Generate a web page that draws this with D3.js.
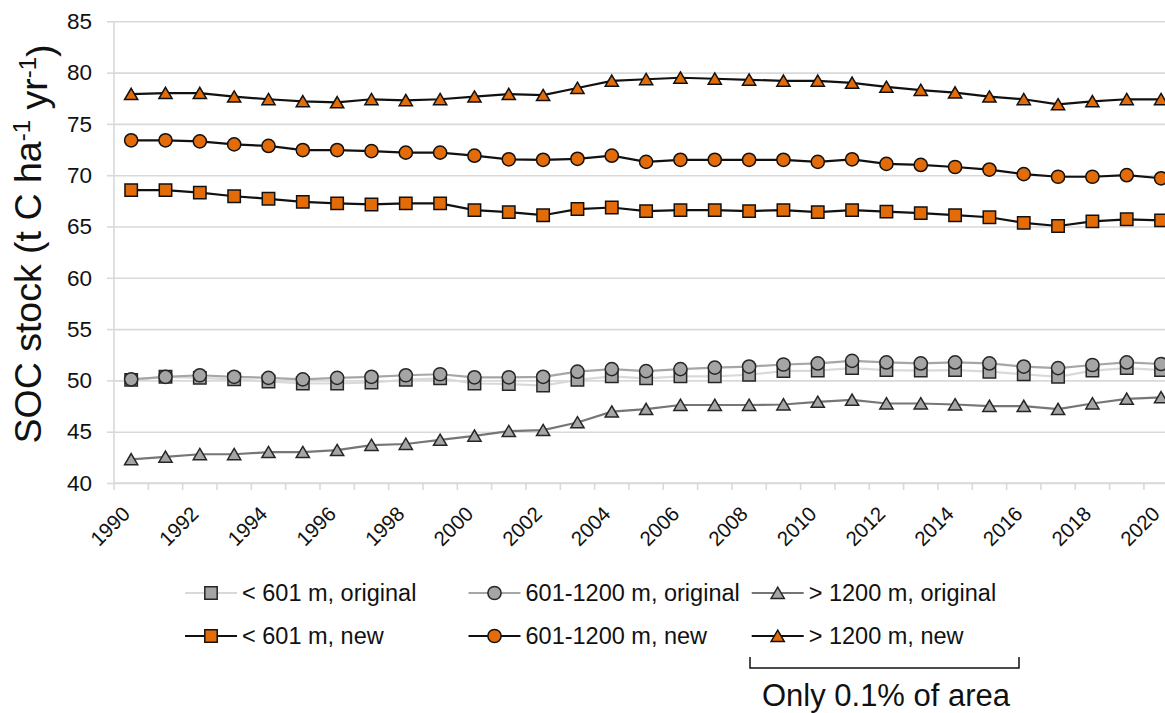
<!DOCTYPE html>
<html>
<head>
<meta charset="utf-8">
<script src="https://cdn.jsdelivr.net/npm/d3@7"></script>
<style>
  body { margin: 0; background: #fff; }
  svg { display: block; font-family: "Liberation Sans", Arial, sans-serif; }
</style>
</head>
<body>
<div id="graph"></div>
<script>
const years = [1990, 1991, 1992, 1993, 1994, 1995, 1996, 1997, 1998, 1999, 2000,
  2001, 2002, 2003, 2004, 2005, 2006, 2007, 2008, 2009, 2010,
  2011, 2012, 2013, 2014, 2015, 2016, 2017, 2018, 2019, 2020];
const yTicks = [40, 45, 50, 55, 60, 65, 70, 75, 80, 85];

const low601Orig = [50.05, 50.35, 50.25, 50.1, 49.9, 49.7, 49.7, 49.8, 50.05, 50.2, 49.7,
  49.65, 49.5, 50.05, 50.4, 50.2, 50.4, 50.4, 50.55, 50.9, 50.95,
  51.2, 51.0, 50.95, 51.0, 50.85, 50.6, 50.35, 50.95, 51.2, 51.0];
const mid601Orig = [50.1, 50.35, 50.5, 50.35, 50.25, 50.1, 50.25, 50.35, 50.5, 50.6, 50.3,
  50.3, 50.35, 50.85, 51.1, 50.9, 51.1, 51.25, 51.35, 51.55, 51.65,
  51.9, 51.75, 51.65, 51.75, 51.65, 51.35, 51.2, 51.5, 51.75, 51.6];
const high1200Orig = [42.3, 42.55, 42.8, 42.8, 43.0, 43.0, 43.2, 43.7, 43.8, 44.2, 44.6,
  45.05, 45.15, 45.9, 46.95, 47.2, 47.6, 47.6, 47.6, 47.65, 47.9,
  48.1, 47.75, 47.75, 47.65, 47.5, 47.5, 47.2, 47.75, 48.2, 48.35];
const low601New = [68.55, 68.55, 68.3, 67.95, 67.7, 67.4, 67.25, 67.15, 67.25, 67.25, 66.6,
  66.4, 66.1, 66.7, 66.85, 66.5, 66.6, 66.6, 66.5, 66.6, 66.4,
  66.6, 66.45, 66.3, 66.1, 65.9, 65.35, 65.05, 65.5, 65.7, 65.6];
const mid601New = [73.4, 73.4, 73.3, 73.0, 72.85, 72.45, 72.45, 72.35, 72.2, 72.2, 71.9,
  71.55, 71.5, 71.6, 71.9, 71.3, 71.5, 71.5, 71.5, 71.5, 71.3,
  71.55, 71.1, 71.0, 70.8, 70.55, 70.1, 69.85, 69.85, 70.0, 69.7];
const high1200New = [77.9, 78.0, 78.0, 77.65, 77.4, 77.2, 77.1, 77.4, 77.3, 77.4, 77.65,
  77.9, 77.8, 78.5, 79.2, 79.35, 79.5, 79.4, 79.3, 79.2, 79.2,
  79.0, 78.6, 78.3, 78.05, 77.65, 77.4, 76.9, 77.2, 77.4, 77.4];

const width = 1165;
const height = 713;
const plot = { left: 114, top: 21.3, bottom: 483, band: 34.33 };
const plotRight = plot.left + years.length * plot.band;

const orange = "#E36C09";
const gray = "#A5A5A5";
const gridColor = "#D9D9D9";

const series = [
  { name: "< 601 m, original", values: low601Orig, shape: "square", line: "#D9D9D9", fill: gray, stroke: "#262626" },
  { name: "601-1200 m, original", values: mid601Orig, shape: "circle", line: "#A6A6A6", fill: gray, stroke: "#262626" },
  { name: "> 1200 m, original", values: high1200Orig, shape: "triangle", line: "#767676", fill: gray, stroke: "#262626" },
  { name: "< 601 m, new", values: low601New, shape: "square", line: "#111", fill: orange, stroke: "#111" },
  { name: "601-1200 m, new", values: mid601New, shape: "circle", line: "#111", fill: orange, stroke: "#111" },
  { name: "> 1200 m, new", values: high1200New, shape: "triangle", line: "#111", fill: orange, stroke: "#111" }
];

function markerPath(shape) {
  if (shape === "square") return "M-6.2,-6.2H6.2V6.2H-6.2Z";
  if (shape === "circle") return d3.symbol(d3.symbolCircle, Math.PI * 6.6 * 6.6)();
  return "M0,-5.8L6.6,5.4L-6.6,5.4Z";
}

let svg = d3.select("#graph")
  .append("svg")
  .attr("width", width)
  .attr("height", height);

let xScale = d3.scaleBand()
  .domain(years)
  .range([plot.left, plotRight]);
let yScale = d3.scaleLinear()
  .domain([40, 85])
  .range([plot.bottom, plot.top]);
let xMid = d => xScale(d) + xScale.bandwidth() / 2;

// gridlines + y axis
let yAxis = d3.axisLeft(yScale)
  .tickValues(yTicks)
  .tickSize(7)
  .tickPadding(15);
let yAxisG = svg.append("g")
  .attr("transform", `translate(${plot.left},0)`)
  .call(yAxis);
yAxisG.selectAll(".tick").append("line")
  .attr("x1", 0)
  .attr("x2", plotRight - plot.left)
  .attr("stroke", gridColor)
  .attr("stroke-width", 1.6);
yAxisG.selectAll("line, path")
  .attr("stroke", gridColor)
  .attr("stroke-width", 1.6);
yAxisG.select(".domain").attr("d", `M0,${plot.top}V${plot.bottom}`);
yAxisG.selectAll("text")
  .style("font-size", "22.5px")
  .attr("fill", "#111");

// x axis
let xAxisG = svg.append("g");
xAxisG.append("line")
  .attr("x1", plot.left).attr("x2", plotRight)
  .attr("y1", plot.bottom).attr("y2", plot.bottom)
  .attr("stroke", gridColor).attr("stroke-width", 1.6);
xAxisG.selectAll(".xtick")
  .data(years.concat(["end"]))
  .enter()
  .append("line")
  .attr("x1", d => d === "end" ? plotRight : xScale(d))
  .attr("x2", d => d === "end" ? plotRight : xScale(d))
  .attr("y1", plot.bottom)
  .attr("y2", plot.bottom + 7)
  .attr("stroke", gridColor)
  .attr("stroke-width", 1.6);
xAxisG.selectAll(".xlabel")
  .data(years.filter(d => d % 2 === 0))
  .enter()
  .append("text")
  .attr("transform", d => `translate(${xMid(d) - 5},510) rotate(-45)`)
  .attr("text-anchor", "end")
  .attr("dy", "0.35em")
  .style("font-size", "20.5px")
  .attr("fill", "#111")
  .text(d => d);

// y axis title
let yTitle = svg.append("text")
  .attr("transform", "translate(41,244) rotate(-90)")
  .attr("text-anchor", "middle")
  .style("font-size", "37.5px")
  .attr("fill", "#111");
yTitle.append("tspan").text("SOC stock (t C ha");
yTitle.append("tspan").attr("dy", "-0.45em").style("font-size", "24px").text("-1");
yTitle.append("tspan").attr("dy", "0.45em").text(" yr");
yTitle.append("tspan").attr("dy", "-0.45em").style("font-size", "24px").text("-1");
yTitle.append("tspan").attr("dy", "0.45em").text(")");

// lines and markers
let lineGen = d3.line()
  .x((d, i) => xMid(years[i]))
  .y(d => yScale(d));
series.forEach(s => {
  let g = svg.append("g");
  g.append("path")
    .datum(s.values)
    .attr("fill", "none")
    .attr("stroke", s.line)
    .attr("stroke-width", 2.2)
    .attr("d", lineGen);
  g.selectAll(".dot")
    .data(s.values)
    .enter()
    .append("path")
    .attr("d", markerPath(s.shape))
    .attr("transform", (d, i) => `translate(${xMid(years[i])},${yScale(d)})`)
    .attr("fill", s.fill)
    .attr("stroke", s.stroke)
    .attr("stroke-width", 1.5);
});

// legend
let legend = svg.append("g");
let legendX = [211, 494.5, 777.7];
let legendY = [593, 636];
series.forEach((s, i) => {
  let cx = legendX[i % 3];
  let cy = legendY[Math.floor(i / 3)];
  legend.append("line")
    .attr("x1", cx - 26).attr("x2", cx + 26)
    .attr("y1", cy).attr("y2", cy)
    .attr("stroke", s.line)
    .attr("stroke-width", 2.2);
  legend.append("path")
    .attr("d", markerPath(s.shape))
    .attr("transform", `translate(${cx},${cy})`)
    .attr("fill", s.fill)
    .attr("stroke", s.stroke)
    .attr("stroke-width", 1.5);
  legend.append("text")
    .attr("x", cx + 31)
    .attr("y", cy)
    .attr("dy", "0.35em")
    .style("font-size", "23.5px")
    .attr("fill", "#111")
    .text(s.name);
});

// note bracket
let note = svg.append("g");
note.append("path")
  .attr("d", "M750,657V668H1019V657")
  .attr("fill", "none")
  .attr("stroke", "#111")
  .attr("stroke-width", 1.5);
note.append("text")
  .attr("x", 886)
  .attr("y", 706)
  .attr("text-anchor", "middle")
  .style("font-size", "31px")
  .attr("fill", "#111")
  .text("Only 0.1% of area");
</script>
</body>
</html>
